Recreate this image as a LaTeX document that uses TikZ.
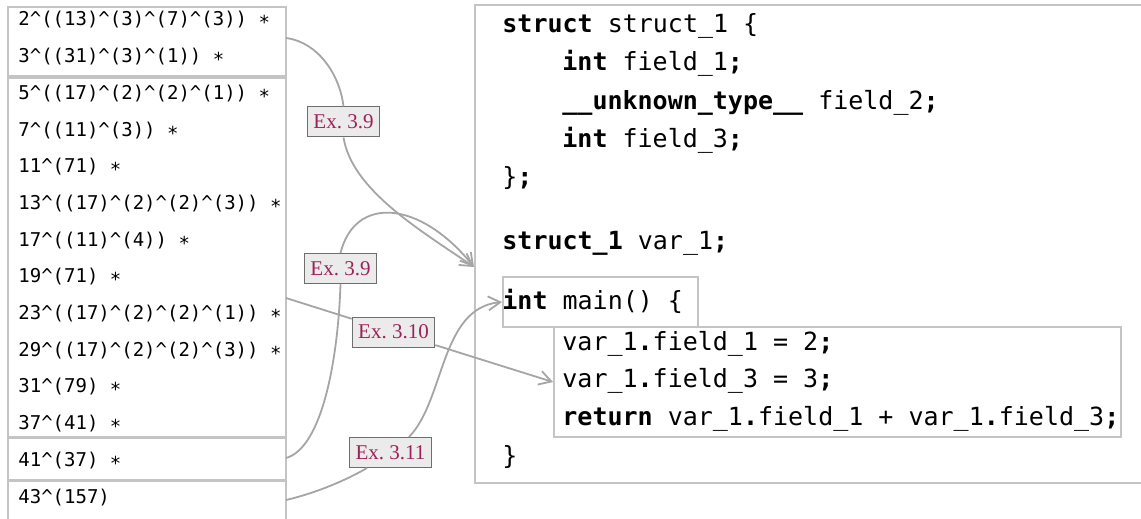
\documentclass[tikz,border=0pt]{standalone}
\usepackage{fontspec}
\usetikzlibrary{arrows.meta}
\newfontfamily\codefont{DejaVu Sans Mono}
\newfontfamily\exfont{Liberation Serif}
\definecolor{exred}{RGB}{155,35,90}
\definecolor{boxgray}{RGB}{196,196,196}
\definecolor{linegray}{RGB}{165,165,165}
\definecolor{exfill}{RGB}{235,235,235}
\definecolor{exdraw}{RGB}{110,110,110}
\newcommand\pw{\textasciicircum}
\newcommand\bsemi{\textbf{;}}
\newcommand\bdot{\textbf{.}}
\begin{document}
\begin{tikzpicture}[x=0.5pt, y=-0.5pt,
  grp/.style={draw=boxgray, line width=1pt},
  row/.style={anchor=west, inner sep=0pt, text height=7.2pt, text depth=1.25pt, font=\codefont\fontsize{9.5}{11}\selectfont},
  code/.style={row, text height=9.5pt, text depth=1.6pt, font=\codefont\fontsize{12.5}{15}\selectfont},
  ex/.style={draw=exdraw, fill=exfill, line width=0.5pt, text=exred, font=\exfont\fontsize{10.5}{12}\selectfont, inner xsep=3pt, inner ysep=0pt, minimum height=15pt},
  conn/.style={draw=linegray, line width=0.9pt},
  arr/.style={conn, -{Straight Barb[length=6pt,width=7pt]}}]
  \useasboundingbox (0,0) rectangle (1141,519);
  % factor list
  \draw[grp] (8,7) rectangle (286,76);
  \draw[grp] (8,78) rectangle (286,437);
  \draw[grp] (8,438) rectangle (286,480);
  \draw[grp] (8,481) rectangle (286,540);
  \foreach \t [count=\i from 0] in {2\pw((13)\pw(3)\pw(7)\pw(3)) ∗, 3\pw((31)\pw(3)\pw(1)) ∗,
      5\pw((17)\pw(2)\pw(2)\pw(1)) ∗, 7\pw((11)\pw(3)) ∗, 11\pw(71) ∗,
      13\pw((17)\pw(2)\pw(2)\pw(3)) ∗, 17\pw((11)\pw(4)) ∗, 19\pw(71) ∗,
      23\pw((17)\pw(2)\pw(2)\pw(1)) ∗, 29\pw((17)\pw(2)\pw(2)\pw(3)) ∗,
      31\pw(79) ∗, 37\pw(41) ∗, 41\pw(37) ∗, 43\pw(157)}
    \node[row] (r\i) at (18, {20+36.7*\i}) {\t};
  \coordinate (s1) at (286,38);
  \coordinate (s2) at (286,458);
  \coordinate (s3) at (286,298);
  \coordinate (s4) at (286,500);
  % program
  \draw[grp] (475,5) rectangle (1160,483);
  \node[grp, inner sep=0pt, minimum width=97.5pt, minimum height=25pt] (mainbox) at (600.5,302) {};
  \node[grp, inner sep=0pt, minimum width=283.5pt, minimum height=55pt] (body) at (837.5,382) {};
  \node[code] (c0) at (502,25) {\textbf{struct} struct\_1 \{};
  \node[code] (c1) at (562,63) {\textbf{int} field\_1\bsemi};
  \node[code] (c2) at (562,102) {\textbf{\_\_unknown\_type\_\_} field\_2\bsemi};
  \node[code] (c3) at (562,140) {\textbf{int} field\_3\bsemi};
  \node[code] (c4) at (502,178) {\}\bsemi};
  \node[code] (c5) at (502,242) {\textbf{struct\_1} var\_1\bsemi};
  \node[code] (c6) at (502,302) {\textbf{int} main() \{};
  \node[code] (c7) at (562,343) {var\_1\bdot{}field\_1 = 2\bsemi};
  \node[code] (c8) at (562,380) {var\_1\bdot{}field\_3 = 3\bsemi};
  \node[code] (c9) at (562,418) {\textbf{return} var\_1\bdot{}field\_1 + var\_1\bdot{}field\_3\bsemi};
  \node[code] (c10) at (502,457) {\}};
  \coordinate (tgtA) at (474,267);
  % labels
  \node[ex] (ex1) at (343.5,122) {Ex.\ 3.9};
  \node[ex] (ex2) at (340.5,268.5) {Ex.\ 3.9};
  \node[ex] (ex310) at (393.5,332) {Ex.\ 3.10};
  \node[ex] (ex311) at (390.5,452.5) {Ex.\ 3.11};
  % connectors
  \draw[conn] (s1) .. controls (318,42) and (340,75) .. (ex1.north);
  \draw[arr] (ex1.south) .. controls (352,190) and (420,230) .. (tgtA);
  \draw[conn] (s2) .. controls (322,448) and (338,360) .. (ex2.south);
  \draw[arr] (ex2.north) .. controls (355,195) and (420,200) .. (tgtA);
  \draw[conn] (s3) -- (ex310);
  \draw[arr] (ex310) -- (body.west);
  \draw[conn] (s4) .. controls (320,492) and (350,478) .. ([xshift=-11.75pt]ex311.south);
  \draw[arr] ([xshift=9.25pt]ex311.north) .. controls (445,400) and (440,308) .. (mainbox.west);
\end{tikzpicture}
\end{document}
